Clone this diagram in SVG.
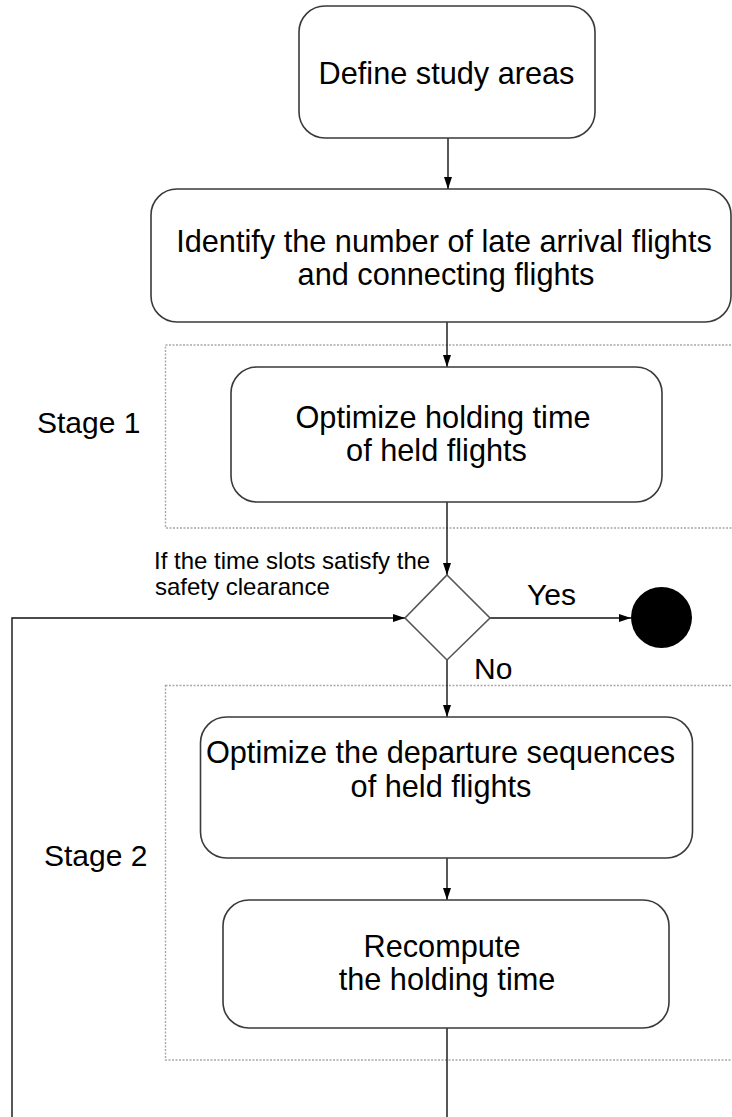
<svg xmlns="http://www.w3.org/2000/svg" width="732" height="1117" viewBox="0 0 732 1117">
<style>
.box{fill:#fff;stroke:#3a3a3a;stroke-width:1.6}
.stage{fill:none;stroke:#a8a8a8;stroke-width:1.4;stroke-dasharray:2 1.5}
.t{font-family:"Liberation Sans",Arial,sans-serif;font-size:30.7px;fill:#000;text-anchor:middle}
.lbl{font-family:"Liberation Sans",Arial,sans-serif;font-size:30px;fill:#000}
.small{font-family:"Liberation Sans",Arial,sans-serif;font-size:24px;fill:#000}
.c{fill:none;stroke:#111;stroke-width:1.4}
</style>
<defs>
<marker id="ah" viewBox="0 0 12 8" refX="12" refY="4" markerWidth="12" markerHeight="8" markerUnits="userSpaceOnUse" orient="auto">
<path d="M0,0 L12,4 L0,8 z" fill="#000"/>
</marker>
</defs>
<rect width="732" height="1117" fill="#fff"/>

<g id="stage1">
<rect class="stage" x="165.5" y="345" width="580" height="183"/>
<text class="lbl" x="37" y="433">Stage 1</text>
</g>
<g id="stage2">
<rect class="stage" x="165.5" y="685.5" width="580" height="374.5"/>
<text class="lbl" x="44" y="866">Stage 2</text>
</g>

<g id="connectors">
<line class="c" x1="448" y1="138" x2="448" y2="189" marker-end="url(#ah)"/>
<line class="c" x1="447" y1="322" x2="447" y2="367" marker-end="url(#ah)"/>
<line class="c" x1="447" y1="502" x2="447" y2="575" marker-end="url(#ah)"/>
<line class="c" x1="490" y1="618" x2="631" y2="618" marker-end="url(#ah)"/>
<line class="c" x1="447" y1="660" x2="447" y2="717" marker-end="url(#ah)"/>
<line class="c" x1="447" y1="858" x2="447" y2="900" marker-end="url(#ah)"/>
<path class="c" d="M447,1028 L447,1140 L12,1140 L12,618 L405,618" marker-end="url(#ah)"/>
<text class="lbl" x="527" y="605">Yes</text>
<text class="lbl" x="474" y="679">No</text>
</g>

<g id="n1">
<rect class="box" x="299" y="6" width="296" height="132" rx="26"/>
<text class="t" x="446.5" y="84">Define study areas</text>
</g>
<g id="n2">
<rect class="box" x="151" y="189" width="580" height="133" rx="26"/>
<text class="t" x="444" y="252">Identify the number of late arrival flights</text>
<text class="t" x="446" y="285">and connecting flights</text>
</g>
<g id="n3">
<rect class="box" x="231" y="367" width="431" height="135" rx="26"/>
<text class="t" x="443" y="428">Optimize holding time</text>
<text class="t" x="436.5" y="461">of held flights</text>
</g>
<g id="decision">
<polygon points="447,575 490,618 447,660 405,618" fill="#fff" stroke="#555" stroke-width="1.6"/>
<text class="small" x="154" y="569">If the time slots satisfy the</text>
<text class="small" x="155" y="595">safety clearance</text>
</g>
<g id="end">
<circle cx="661.5" cy="617.5" r="30.5" fill="#000"/>
</g>
<g id="n4">
<rect class="box" x="200.5" y="717" width="492" height="141" rx="26"/>
<text class="t" x="440.5" y="763">Optimize the departure sequences</text>
<text class="t" x="441" y="797">of held flights</text>
</g>
<g id="n5">
<rect class="box" x="223" y="900" width="446" height="128" rx="26"/>
<text class="t" x="442" y="957">Recompute</text>
<text class="t" x="447" y="990">the holding time</text>
</g>
</svg>
